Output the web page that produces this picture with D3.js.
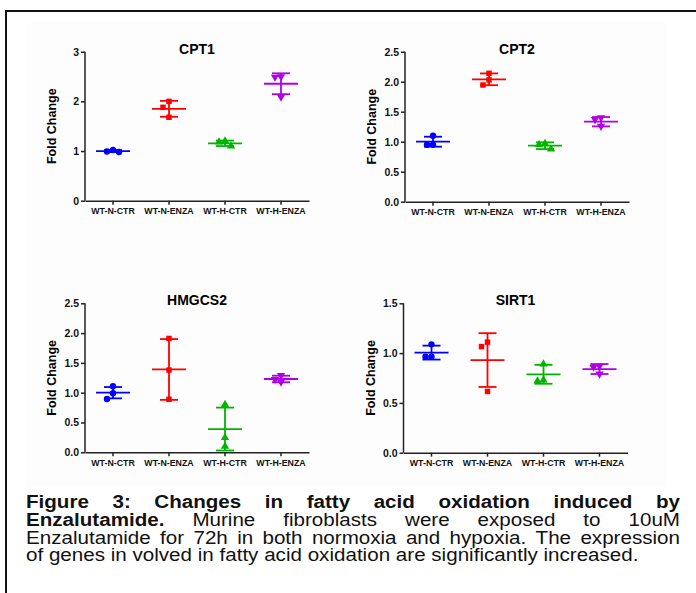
<!DOCTYPE html>
<html>
<head>
<meta charset="utf-8">
<script src="https://cdn.jsdelivr.net/npm/d3@7"></script>
<style>
  body { margin: 0; background: #fff; }
  svg { display: block; }
</style>
</head>
<body>
<svg id="fig" width="696" height="593"></svg>
<script>
const groups = ["WT-N-CTR", "WT-N-ENZA", "WT-H-CTR", "WT-H-ENZA"];

// values: replicate points, mean and SD per group
const cpt1Points = [[1.02, 0.99, 0.98], [2.00, 1.88, 1.68], [1.20, 1.18, 1.10], [2.50, 2.49, 2.09]];
const cpt1Mean = [1.00, 1.85, 1.155, 2.355];
const cpt1Sd = [0.02, 0.16, 0.055, 0.21];
const cpt1Ticks = [0, 1, 2, 3];

const cpt2Points = [[1.10, 0.95, 0.95], [2.14, 2.03, 1.945], [0.97, 0.95, 0.875], [1.40, 1.37, 1.26]];
const cpt2Mean = [1.00, 2.04, 0.933, 1.333];
const cpt2Sd = [0.083, 0.098, 0.056, 0.078];
const cpt2Ticks = [0, 0.5, 1.0, 1.5, 2.0, 2.5];

const hmgcs2Points = [[1.11, 0.99, 0.895], [1.91, 1.38, 0.89], [0.80, 0.245, 0.10], [1.29, 1.225, 1.18]];
const hmgcs2Mean = [1.00, 1.39, 0.39, 1.23];
const hmgcs2Sd = [0.095, 0.51, 0.36, 0.055];
const hmgcs2Ticks = [0, 0.5, 1.0, 1.5, 2.0, 2.5];

const sirt1Points = [[1.088, 0.964, 0.964], [1.11, 1.065, 0.615], [0.89, 0.72, 0.73], [0.87, 0.86, 0.79]];
const sirt1Mean = [1.005, 0.93, 0.787, 0.84];
const sirt1Sd = [0.07, 0.27, 0.095, 0.05];
const sirt1Ticks = [0, 0.5, 1.0, 1.5];

const captionLines = [
  [["Figure 3: Changes in fatty acid oxidation induced by", true]],
  [["Enzalutamide.", true], ["Murine fibroblasts were exposed to 10uM", false]],
  [["Enzalutamide for 72h in both normoxia and hypoxia. The expression", false]],
  [["of genes in volved in fatty acid oxidation are significantly increased.", false]]
];

const colors = ["#0000ff", "#ff0000", "#00b400", "#b000e6"];
const symbols = [d3.symbolCircle, d3.symbolSquare, d3.symbolTriangle, d3.symbolTriangle];
const font = "'Liberation Sans', Arial, sans-serif";

const svg = d3.select("#fig");

// faint backdrop of the pasted chart image
svg.append("rect")
  .attr("x", 27).attr("y", 22)
  .attr("width", 640).attr("height", 465)
  .attr("fill", "#fdfdfd");

// frame around the figure (runs off the right and bottom edge)
svg.append("rect")
  .attr("x", 6).attr("y", 11)
  .attr("width", 720).attr("height", 620)
  .attr("fill", "none").attr("stroke", "#111").attr("stroke-width", 2);

const panels = [
  { title: "CPT1", pts: cpt1Points, mean: cpt1Mean, sd: cpt1Sd, ticks: cpt1Ticks, fmt: d3.format("d"), x: 85, top: 51.7, bottom: 200.7 },
  { title: "CPT2", pts: cpt2Points, mean: cpt2Mean, sd: cpt2Sd, ticks: cpt2Ticks, fmt: d3.format(".1f"), x: 405, top: 51.7, bottom: 201.7 },
  { title: "HMGCS2", pts: hmgcs2Points, mean: hmgcs2Mean, sd: hmgcs2Sd, ticks: hmgcs2Ticks, fmt: d3.format(".1f"), x: 85, top: 303.3, bottom: 452.3 },
  { title: "SIRT1", pts: sirt1Points, mean: sirt1Mean, sd: sirt1Sd, ticks: sirt1Ticks, fmt: d3.format(".1f"), x: 403.5, top: 303.3, bottom: 452.7 }
];

// spread overlapping replicates sideways, like a column scatter
function jitter(ys, step, dist) {
  const order = ys.map((y, i) => i).sort((a, b) => ys[a] - ys[b]);
  const placed = [];
  const offs = Array(ys.length).fill(0);
  const cands = [0, -step, step, -2 * step, 2 * step];
  order.forEach(i => {
    for (const c of cands) {
      const ok = placed.every(p => Math.hypot(p.x - c, p.y - ys[i]) >= dist);
      if (ok) { offs[i] = c; break; }
    }
    placed.push({ x: offs[i], y: ys[i] });
  });
  return offs;
}

panels.forEach(p => {
  const width = 224;
  const g = svg.append("g");

  const x = d3.scaleBand().domain(groups).range([p.x, p.x + width]);
  const y = d3.scaleLinear().domain([0, p.ticks[p.ticks.length - 1]]).range([p.bottom, p.top]);

  const yAxis = g.append("g")
    .attr("transform", `translate(${p.x},0)`)
    .call(d3.axisLeft(y).tickValues(p.ticks).tickFormat(p.fmt).tickSize(4).tickPadding(2));
  const xAxis = g.append("g")
    .attr("transform", `translate(0,${p.bottom})`)
    .call(d3.axisBottom(x).tickSize(4).tickPadding(3).tickSizeOuter(0));

  [yAxis, xAxis].forEach(a => {
    a.select(".domain").attr("stroke", "#222").attr("stroke-width", 1.5);
    a.selectAll(".tick line").attr("stroke", "#222").attr("stroke-width", 1.5);
    a.selectAll("text").attr("fill", "#111").attr("font-family", font).attr("font-weight", "bold");
  });
  yAxis.select(".domain").attr("d", `M0,${p.bottom}V${p.top}`);
  yAxis.selectAll("text").attr("font-size", 10.5);
  xAxis.selectAll("text").attr("font-size", 8.8);

  g.append("text")
    .attr("x", p.x + width / 2).attr("y", p.top + 2)
    .attr("text-anchor", "middle")
    .attr("font-family", font).attr("font-weight", "bold").attr("font-size", 14)
    .text(p.title);

  g.append("text")
    .attr("transform", `translate(${p.x - 29},${(p.top + p.bottom) / 2}) rotate(-90)`)
    .attr("text-anchor", "middle")
    .attr("font-family", font).attr("font-weight", "bold").attr("font-size", 12.5)
    .text("Fold Change");

  groups.forEach((grp, gi) => {
    const cx = x(grp) + x.bandwidth() / 2;
    const col = colors[gi];
    const ys = p.pts[gi].map(v => y(v));
    const offs = jitter(ys, 6, 6);
    const sym = d3.symbol().type(symbols[gi]).size(gi === 0 ? 32 : 30);

    g.selectAll(null)
      .data(p.pts[gi])
      .join("path")
      .attr("d", sym)
      .attr("transform", (d, i) => `translate(${cx + offs[i]},${ys[i]})${gi === 3 ? " rotate(180)" : ""}`)
      .attr("fill", col);

    const m = p.mean[gi], s = p.sd[gi];
    const lines = [
      [cx - 17, y(m), cx + 17, y(m)],
      [cx, y(m + s), cx, y(m - s)],
      [cx - 9, y(m + s), cx + 9, y(m + s)],
      [cx - 9, y(m - s), cx + 9, y(m - s)]
    ];
    g.selectAll(null)
      .data(lines)
      .join("line")
      .attr("x1", d => d[0]).attr("y1", d => d[1])
      .attr("x2", d => d[2]).attr("y2", d => d[3])
      .attr("stroke", col).attr("stroke-width", 1.8);
  });
});

// caption, justified on all but the last line; the source text is squashed vertically
const cap = svg.append("g");
const capLeft = 26, capRight = 680, capSize = 20.6, squash = 0.85;
const baselines = [508, 525.8, 543.5, 561.2];

captionLines.forEach((segs, li) => {
  const row = cap.append("g").attr("transform", `translate(0,${baselines[li]}) scale(1,${squash})`);
  const words = [];
  segs.forEach(([txt, bold]) => txt.split(" ").forEach(w => words.push({ w, bold })));
  const nodes = words.map(d => row.append("text")
    .attr("y", 0)
    .attr("font-family", font)
    .attr("font-size", capSize)
    .attr("font-weight", d.bold ? "bold" : "normal")
    .attr("fill", "#111")
    .text(d.w));
  const widths = nodes.map(n => n.node().getComputedTextLength());
  const total = d3.sum(widths);
  const last = li === captionLines.length - 1;
  const gap = last ? capSize * 0.278 : (capRight - capLeft - total) / (words.length - 1);
  let cx = capLeft;
  nodes.forEach((n, i) => {
    n.attr("x", cx);
    cx += widths[i] + gap;
  });
});
</script>
</body>
</html>
